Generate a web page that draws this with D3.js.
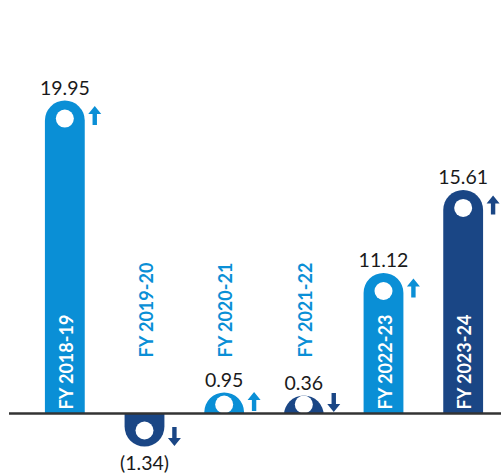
<!DOCTYPE html>
<html>
<head>
<meta charset="utf-8">
<script src="https://cdn.jsdelivr.net/npm/d3@7"></script>
<style>
  html, body { margin: 0; padding: 0; background: #ffffff; }
  svg { display: block; }
</style>
</head>
<body>
<div id="chart"></div>
<script>
const categories = ["FY 2018-19", "FY 2019-20", "FY 2020-21", "FY 2021-22", "FY 2022-23", "FY 2023-24"];
const values = [19.95, -1.34, 0.95, 0.36, 11.12, 15.61];
const valueLabels = ["19.95", "(1.34)", "0.95", "0.36", "11.12", "15.61"];
const trends = ["up", "down", "up", "down", "up", "up"];
const shades = ["light", "dark", "light", "dark", "light", "dark"];

const W = 501, H = 475;
const base = 413.5;
const colors = { light: "#0a8fd6", dark: "#1a4685" };

const svg = d3.select("#chart").append("svg").attr("width", W).attr("height", H);

const x = d3.scaleBand().domain(categories).range([25, 503]).paddingInner(0.5).paddingOuter(0.25);
const hScale = d3.scalePow().exponent(1.37).domain([0, 20]).range([0, 314]);
const r = x.bandwidth() / 2;

const defs = svg.append("defs");
defs.append("clipPath").attr("id", "clipUp").append("rect").attr("x", 0).attr("y", 0).attr("width", W).attr("height", base);
defs.append("clipPath").attr("id", "clipDown").append("rect").attr("x", 0).attr("y", base).attr("width", W).attr("height", H - base);

const data = categories.map((c, i) => {
  const v = values[i];
  const h = Math.max(hScale(Math.abs(v)), v < 0 ? 33 : (v > 0.5 ? 21 : 18));
  const x0 = x(c), x1 = x0 + x.bandwidth(), cx = x0 + r;
  let end, cy;
  if (v >= 0) { end = base - h; cy = Math.min(end + 18, base - 9); }
  else { end = base + h; cy = end - 16; }
  return { c, v, h, x0, x1, cx, end, cy, label: valueLabels[i], trend: trends[i], color: colors[shades[i]] };
});

function barPath(d) {
  if (d.v >= 0) {
    return `M${d.x0},${base + r} L${d.x0},${d.end + r} A${r},${r} 0 0 1 ${d.x1},${d.end + r} L${d.x1},${base + r} Z`;
  }
  return `M${d.x0},${base - r} L${d.x0},${d.end - r} A${r},${r} 0 0 0 ${d.x1},${d.end - r} L${d.x1},${base - r} Z`;
}

const g = svg.append("g");
const bars = g.selectAll("g.bar").data(data).join("g").attr("class", "bar")
  .attr("clip-path", d => d.v >= 0 ? "url(#clipUp)" : "url(#clipDown)");
bars.append("path").attr("d", barPath).attr("fill", d => d.color);
bars.append("circle").attr("cx", d => d.cx).attr("cy", d => d.cy).attr("r", 9).attr("fill", "#ffffff");

// baseline
svg.append("line").attr("x1", 9).attr("x2", W).attr("y1", base).attr("y2", base)
  .attr("stroke", "#333333").attr("stroke-width", 2.5);

// arrows
function arrowPath(cx, cy, dir) {
  const L = 19, hh = 8, hw = 6.5, sw = 2.2;
  const t = -L / 2, b = L / 2;
  if (dir === "up") {
    return `M${cx},${cy + t} L${cx + hw},${cy + t + hh} L${cx + sw},${cy + t + hh} L${cx + sw},${cy + b} L${cx - sw},${cy + b} L${cx - sw},${cy + t + hh} L${cx - hw},${cy + t + hh} Z`;
  }
  return `M${cx},${cy + b} L${cx + hw},${cy + b - hh} L${cx + sw},${cy + b - hh} L${cx + sw},${cy + t} L${cx - sw},${cy + t} L${cx - sw},${cy + b - hh} L${cx - hw},${cy + b - hh} Z`;
}
svg.selectAll("path.arrow").data(data).join("path").attr("class", "arrow")
  .attr("fill", d => d.color)
  .attr("d", d => {
    let ay = d.cy + (d.trend === "up" ? -3 : 6);
    if (d.v >= 0) ay = Math.min(ay, base - 11);
    return arrowPath(d.x1 + 10, ay, d.trend);
  });

// value labels
svg.selectAll("text.val").data(data).join("text").attr("class", "val")
  .attr("x", d => d.cx)
  .attr("y", d => d.v >= 0 ? d.end - 6 : d.end + 23)
  .attr("text-anchor", "middle")
  .attr("font-family", "Lato, 'Liberation Sans', sans-serif")
  .attr("font-size", 19.5)
  .attr("fill", "#1a1a1a")
  .text(d => d.label);

// category labels (vertical)
svg.selectAll("text.cat").data(data).join("text").attr("class", "cat")
  .attr("transform", d => {
    const inside = d.v >= 0 && d.h > 100;
    const y = inside ? base - 4 : base - 56;
    return `translate(${d.cx + 1},${y}) rotate(-90)`;
  })
  .attr("text-anchor", "start")
  .attr("dominant-baseline", "central")
  .attr("font-family", "Lato, 'Liberation Sans', sans-serif")
  .attr("font-weight", "bold")
  .attr("font-size", 18)
  .attr("fill", d => (d.v >= 0 && d.h > 100) ? "#ffffff" : colors.light)
  .text(d => d.c);
</script>
</body>
</html>
